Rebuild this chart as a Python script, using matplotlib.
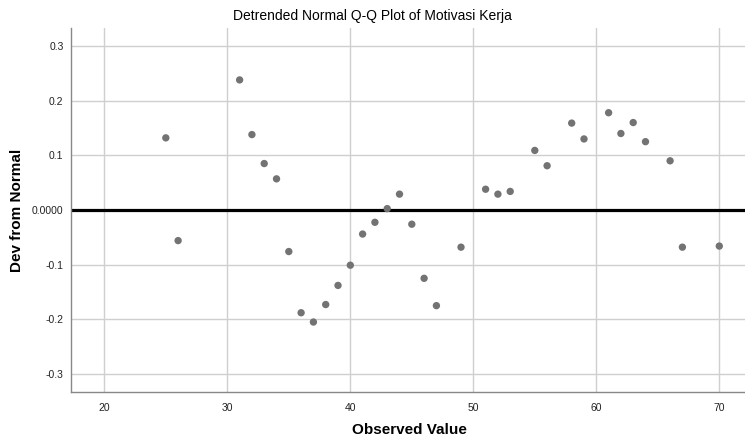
import matplotlib
matplotlib.use("Agg")
import matplotlib.pyplot as plt

plt.rcParams['font.family'] = ['Liberation Sans', 'DejaVu Sans']

observed = [25, 26, 31, 32, 33, 34, 35, 36, 37, 38, 39, 40, 41, 42, 43, 44, 45, 46, 47,
            49, 51, 52, 53, 55, 56, 58, 59, 61, 62, 63, 64, 66, 67, 70]
dev = [0.132, -0.056, 0.238, 0.138, 0.085, 0.057, -0.076, -0.188, -0.205, -0.173,
       -0.138, -0.101, -0.044, -0.0225, 0.0025, 0.029, -0.026, -0.125, -0.175,
       -0.068, 0.038, 0.029, 0.034, 0.109, 0.081, 0.159, 0.130, 0.178, 0.140,
       0.160, 0.125, 0.090, -0.068, -0.066]

xticks = [20, 30, 40, 50, 60, 70]
yticks = [-0.3, -0.2, -0.1, 0.0, 0.1, 0.2, 0.3]
ytick_labels = ["-0.3", "-0.2", "-0.1", "0.0000", "0.1", "0.2", "0.3"]

fig = plt.figure(figsize=(7.45, 4.44), dpi=100)
ax = fig.add_axes([70.5/745, 52/444, (745-70.5)/745, (392-28)/444])

ax.set_xlim(17.25, 72.09)
ax.set_ylim(-0.333, 0.333)
ax.set_xticks(xticks)
ax.set_yticks(yticks)
ax.set_yticklabels(ytick_labels)
ax.grid(True, color='#cfcfcf', linewidth=1.0)
ax.set_axisbelow(True)
ax.tick_params(length=0, labelsize=7.5, colors='#222222')
ax.tick_params(axis='x', pad=8)
ax.tick_params(axis='y', pad=5)

for s in ['top', 'right']:
    ax.spines[s].set_visible(False)
for s in ['left', 'bottom']:
    ax.spines[s].set_color('#888888')
    ax.spines[s].set_linewidth(1.0)

ax.axhline(0, color='black', linewidth=2.3, zorder=2)
ax.scatter(observed, dev, s=28, color='#737373', edgecolors='none', zorder=3)

fig.text(0.5, 1 - 16/444, "Detrended Normal Q-Q Plot of Motivasi Kerja",
         fontsize=10, ha='center', va='center')
ax.set_xlabel("Observed Value", fontsize=11, fontweight='bold')
ax.xaxis.set_label_coords((409 - 70.5) / 674.5, -(430 - 392) / 364)
ax.xaxis.label.set_va('center')
ax.set_ylabel("Dev from Normal", fontsize=11, fontweight='bold')
ax.yaxis.set_label_coords((17 - 70.5) / 674.5, 0.5)
ax.yaxis.label.set_va('center')

fig.savefig("out.png", dpi=100)
